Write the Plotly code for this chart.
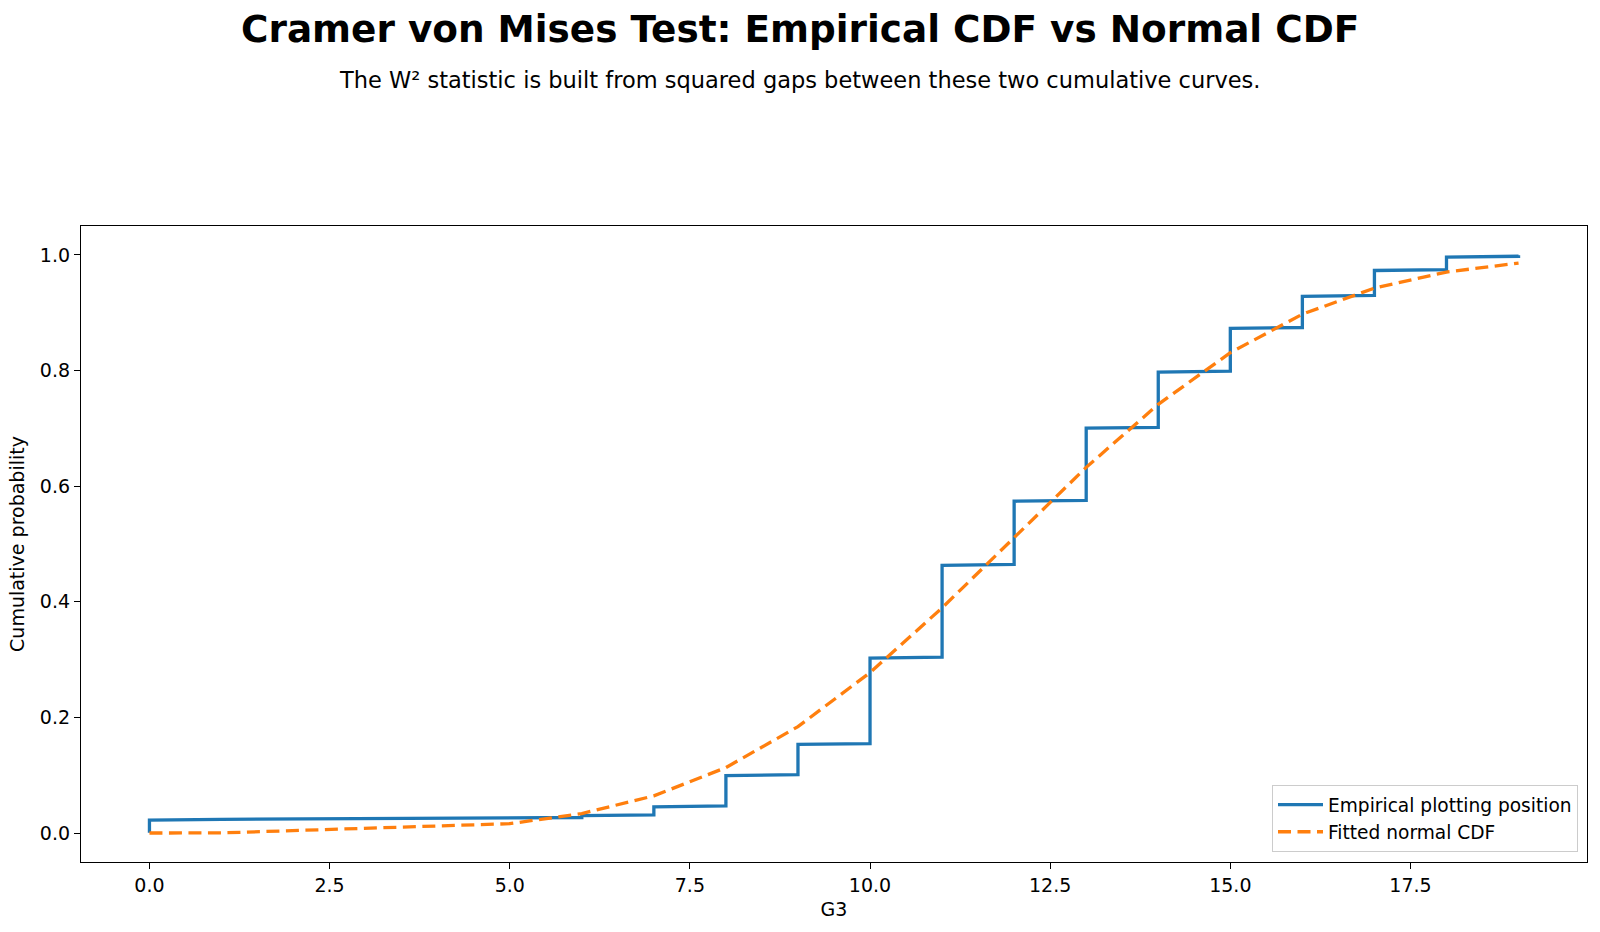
import math
import numpy as np
import plotly.graph_objects as go

# G3 grade values and how many students got each (read from the step heights)
grade_values = [0, 1, 5, 6, 7, 8, 9, 10, 11, 12, 13, 14, 15, 16, 17, 18, 19]
grade_counts = [15, 1, 1, 3, 10, 35, 35, 97, 104, 72, 82, 63, 49, 36, 29, 15, 2]

x_ticks = [0, 2.5, 5, 7.5, 10, 12.5, 15, 17.5]
x_tick_labels = ["0.0", "2.5", "5.0", "7.5", "10.0", "12.5", "15.0", "17.5"]
y_ticks = [0, 0.2, 0.4, 0.6, 0.8, 1.0]
y_tick_labels = ["0.0", "0.2", "0.4", "0.6", "0.8", "1.0"]

data = np.sort(np.repeat(np.array(grade_values, dtype=float), grade_counts))
n = len(data)
positions = (np.arange(1, n + 1) - 0.5) / n
mu = data.mean()
sd = data.std(ddof=1)
normal_cdf = np.array([0.5 * (1 + math.erf((v - mu) / (sd * math.sqrt(2)))) for v in data])

FONT = "DejaVu Sans"
L, R, T, B = 81, 13, 226, 70
W, H = 1600, 932
plot_h = H - T - B

fig = go.Figure()
fig.add_trace(go.Scatter(x=data, y=positions, mode="lines", name="Empirical plotting position",
                         line=dict(color="#1f77b4", width=3.3)))
fig.add_trace(go.Scatter(x=data, y=normal_cdf, mode="lines", name="Fitted normal CDF",
                         line=dict(color="#ff7f0e", width=3.3, dash="13px,6.5px")))

axis_common = dict(showline=True, mirror=True, linecolor="black", linewidth=1.3,
                   ticks="outside", ticklen=6, tickwidth=1.3, tickcolor="black",
                   showgrid=False, zeroline=False,
                   tickfont=dict(family=FONT, size=19, color="black"))

fig.update_layout(
    width=W, height=H,
    margin=dict(l=L, r=R, t=T, b=B, pad=0),
    paper_bgcolor="white", plot_bgcolor="white",
    font=dict(family=FONT, color="black"),
    xaxis=dict(range=[-0.95, 19.95], tickvals=x_ticks, ticktext=x_tick_labels,
               title=dict(text="G3", font=dict(family=FONT, size=19), standoff=7),
               **axis_common),
    yaxis=dict(range=[-0.05, 1.05], tickvals=y_ticks, ticktext=y_tick_labels,
               title=dict(text="Cumulative probability", font=dict(family=FONT, size=19), standoff=10),
               **axis_common),
    legend=dict(x=(1578 - L) / (W - L - R), y=(H - B - 852) / plot_h, xanchor="right", yanchor="bottom",
                bgcolor="rgba(255,255,255,0.8)", bordercolor="#cccccc", borderwidth=1,
                font=dict(family=FONT, size=18.6), tracegroupgap=0, itemwidth=45),
    showlegend=True,
)

cx = 0.5 + ((W / 2) - (L + (W - L - R) / 2)) / (W - L - R)
fig.add_annotation(text="<b>Cramer von Mises Test: Empirical CDF vs Normal CDF</b>",
                   xref="paper", yref="paper", x=cx,
                   y=1 + (T - 29) / plot_h, yanchor="middle", xanchor="center", showarrow=False,
                   font=dict(family=FONT, size=37.4, color="black"))
fig.add_annotation(text="The W² statistic is built from squared gaps between these two cumulative curves.",
                   xref="paper", yref="paper", x=cx,
                   y=1 + (T - 80) / plot_h, yanchor="middle", xanchor="center", showarrow=False,
                   font=dict(family=FONT, size=22.5, color="black"))

fig.write_html("out.html")
